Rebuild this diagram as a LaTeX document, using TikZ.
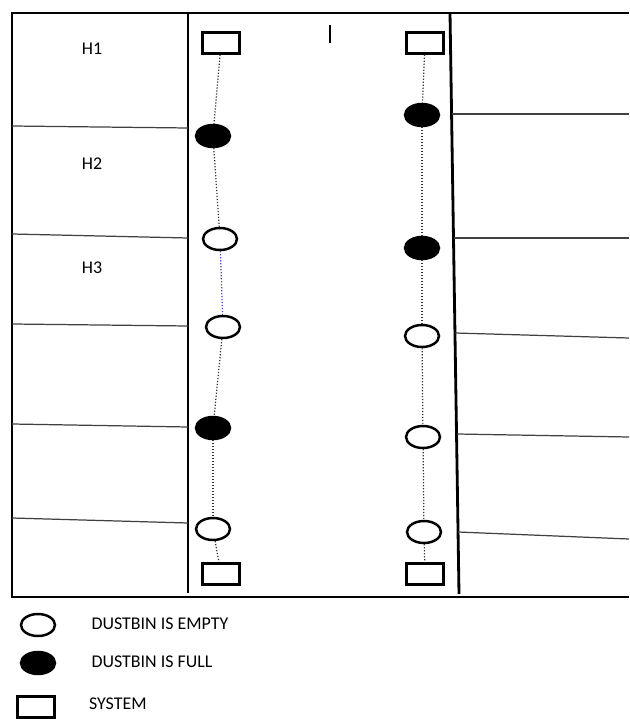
\documentclass[tikz,border=0pt]{standalone}
\usepackage{fontspec}
\setmainfont{Carlito}
\usetikzlibrary{shapes.geometric,positioning}

\begin{document}
\begin{tikzpicture}[
  x=0.02cm, y=-0.02cm,
  node distance=7mm,
  wall/.style={line width=1.6pt},
  partition/.style={draw=black!75,line width=0.7pt},
  binempty/.style={ellipse,draw,line width=1.4pt,fill=white,minimum width=6.8mm,minimum height=4.4mm,inner sep=0pt},
  binfull/.style={binempty,fill=black},
  sysbox/.style={rectangle,draw,line width=1.4pt,fill=white,minimum width=7.4mm,minimum height=4.2mm,inner sep=0pt},
  lbl/.style={inner sep=0pt,font=\fontsize{10.2}{12}\selectfont},
  every edge/.style={draw=black!80,densely dotted,line width=0.7pt}
]
\useasboundingbox (0,0) rectangle (629,719);

% frame and walls
\draw[wall] (629,13) -- (12,13) -- (12,597) -- (629,597);
\draw[wall] (188,13) -- (188,593);
\draw[wall] (450,13) -- (459,594);
\draw[line width=0.8pt] (330,25) -- (330,43);

% houses on the left
\draw[partition] (12,126) -- (188,128);
\draw[partition] (12,234) -- (188,238);
\draw[partition] (12,324) -- (188,326);
\draw[partition] (12,424) -- (188,427);
\draw[partition] (12,518) -- (188,523);

% houses on the right
\draw[partition] (452,114) -- (629,114);
\draw[partition] (454,238) -- (629,238);
\draw[partition] (455,333) -- (629,338);
\draw[partition] (457,434) -- (629,437);
\draw[partition] (458,532) -- (629,539);

\node[lbl] (h1) at (92,49) {H1};
\node[lbl] (h2) at (92,164) {H2};
\node[lbl] (h3) at (92,268) {H3};

% left row of bins
\node[sysbox] (ltop) at (221,43) {};
\node[binfull] (lb1) at (213,136) {};
\node[binempty] (lb2) at (220,239) {};
\node[binempty] (lb3) at (223,327) {};
\node[binfull] (lb4) at (213,428) {};
\node[binempty] (lb5) at (213,529) {};
\node[sysbox] (lbot) at (221,574) {};

% right row of bins
\node[sysbox] (rtop) at (425,43) {};
\node[binfull] (rb1) at (422,115) {};
\node[binfull] (rb2) at (422,248) {};
\node[binempty] (rb3) at (422,336) {};
\node[binempty] (rb4) at (423,437) {};
\node[binempty] (rb5) at (424,532) {};
\node[sysbox] (rbot) at (425,574) {};

\draw (ltop) edge (lb1) (lb1) edge (lb2)
      (lb2) edge[draw=blue!45!gray] (lb3)
      (lb3) edge (lb4) (lb4) edge (lb5) (lb5) edge (lbot);
\draw (rtop) edge (rb1) (rb1) edge (rb2) (rb2) edge (rb3)
      (rb3) edge (rb4) (rb4) edge (rb5) (rb5) edge (rbot);

% legend
\node[binempty] (kempty) at (38,625) {};
\node[binfull] (kfull) at (38,663) {};
\node[sysbox] (ksys) at (36,707) {};
\node[lbl,right=of kempty,yshift=0.6pt] (tempty) {DUSTBIN IS EMPTY};
\node[lbl,right=of kfull,yshift=0.6pt] (tfull) {DUSTBIN IS FULL};
\node[lbl,right=6.6mm of ksys,yshift=1.7pt] (tsys) {SYSTEM};
\end{tikzpicture}
\end{document}
